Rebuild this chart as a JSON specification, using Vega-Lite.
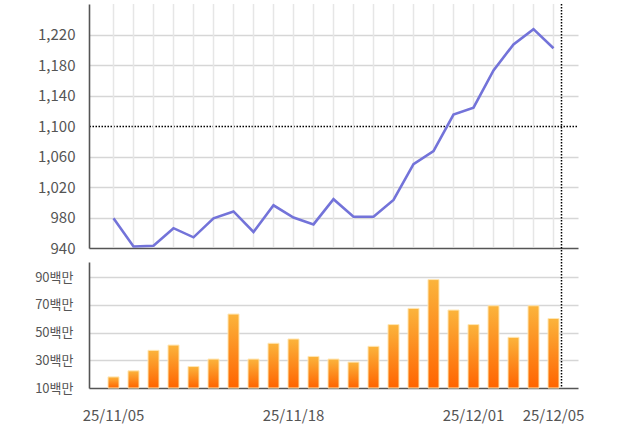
{
  "$schema": "https://vega.github.io/schema/vega-lite/v6.json",
  "width": 489,
  "height": 384,
  "autosize": "none",
  "padding": {"left": 89, "top": 4, "right": 44, "bottom": 45},
  "background": "white",
  "config": {
    "view": {"stroke": null},
    "font": "Noto Sans CJK KR",
    "axis": {"labelFont": "Noto Sans CJK KR", "labelColor": "#555555", "labelFontSize": 14, "ticks": false, "tickSize": 0, "title": null, "domainColor": "#555555", "domainWidth": 1.6}
  },
  "datasets": {
    "d": [
      {"date": "25/11/05", "price": 979, "vol": 18000000},
      {"date": "25/11/06", "price": 942, "vol": 22400000},
      {"date": "25/11/07", "price": 943, "vol": 37200000},
      {"date": "25/11/10", "price": 966, "vol": 41000000},
      {"date": "25/11/11", "price": 954, "vol": 25500000},
      {"date": "25/11/12", "price": 979, "vol": 30900000},
      {"date": "25/11/13", "price": 988, "vol": 63400000},
      {"date": "25/11/14", "price": 961, "vol": 30900000},
      {"date": "25/11/17", "price": 996, "vol": 42300000},
      {"date": "25/11/18", "price": 980, "vol": 45400000},
      {"date": "25/11/19", "price": 971, "vol": 32800000},
      {"date": "25/11/20", "price": 1004, "vol": 30900000},
      {"date": "25/11/21", "price": 981, "vol": 28700000},
      {"date": "25/11/24", "price": 981, "vol": 40100000},
      {"date": "25/11/25", "price": 1003, "vol": 55800000},
      {"date": "25/11/26", "price": 1050, "vol": 67500000},
      {"date": "25/11/27", "price": 1067, "vol": 88300000},
      {"date": "25/11/28", "price": 1115, "vol": 66300000},
      {"date": "25/12/01", "price": 1124, "vol": 55800000},
      {"date": "25/12/02", "price": 1173, "vol": 69400000},
      {"date": "25/12/03", "price": 1207, "vol": 46600000},
      {"date": "25/12/04", "price": 1227, "vol": 69400000},
      {"date": "25/12/05", "price": 1202, "vol": 60200000}
    ]
  },
  "data": {"name": "d"},
  "layer": [
    {
      "encoding": {
        "y": {
          "field": "price",
          "type": "quantitative",
          "scale": {"domain": [940, 1260], "range": [244, 0], "nice": false, "zero": false},
          "axis": {
            "orient": "left",
            "values": [940, 980, 1020, 1060, 1100, 1140, 1180, 1220],
            "format": ",d",
            "grid": true,
            "gridColor": {"condition": [{"test": "datum.value === 940", "value": "#555555"}, {"test": "datum.value === 1100", "value": "#000000"}], "value": "#d6d6d6"},
            "gridDash": {"condition": {"test": "datum.value === 1100", "value": [1.5, 1.5]}, "value": []},
            "gridWidth": {"condition": {"test": "datum.value === 1100", "value": 1.5}, "value": 1.6},
            "labelPadding": 14,
            "labelFontSize": 15
          }
        }
      },
      "layer": [
        {
          "mark": {"type": "rule", "color": "#e6e6e6", "strokeWidth": 1.5},
          "encoding": {
            "x": {
              "field": "date", "type": "ordinal", "sort": null,
              "scale": {"type": "band", "paddingInner": 0.55, "paddingOuter": 1},
              "axis": {"values": ["25/11/05", "25/11/18", "25/12/01", "25/12/05"], "labelAngle": 0, "labelPadding": 20, "grid": false, "domain": false, "labelFontSize": 15}
            },
            "y": {"datum": 941},
            "y2": {"datum": 1260}
          }
        },
        {
          "mark": {"type": "line", "color": "#7373d9", "strokeWidth": 2.6},
          "encoding": {
            "x": {
              "field": "date", "type": "ordinal", "sort": null,
              "scale": {"type": "band", "paddingInner": 0.55, "paddingOuter": 1},
              "axis": {"values": ["25/11/05", "25/11/18", "25/12/01", "25/12/05"], "labelAngle": 0, "labelPadding": 20, "grid": false, "domain": false, "labelFontSize": 15}
            }
          }
        }
      ]
    },
    {
      "mark": {
        "type": "bar",
        "width": 11,
        "stroke": "#ffe6b3",
        "strokeWidth": 1,
        "color": {
          "gradient": "linear",
          "x1": 0, "y1": 0, "x2": 0, "y2": 1,
          "stops": [
            {"offset": 0, "color": "#fbb43c"},
            {"offset": 1, "color": "#ff6400"}
          ]
        }
      },
      "encoding": {
        "x": {
          "field": "date", "type": "ordinal", "sort": null,
          "scale": {"type": "band", "paddingInner": 0.55, "paddingOuter": 1},
          "axis": {"values": ["25/11/05", "25/11/18", "25/12/01", "25/12/05"], "labelAngle": 0, "labelPadding": 20, "grid": false, "domain": false, "labelFontSize": 15}
        },
        "y": {
          "field": "vol",
          "type": "quantitative",
          "scale": {"domain": [10000000, 101000000], "range": [384, 258], "nice": false, "zero": false},
          "axis": {
            "orient": "left",
            "values": [10000000, 30000000, 50000000, 70000000, 90000000],
            "labelExpr": "format(datum.value / 1000000, 'd') + '백만'",
            "grid": true,
            "gridColor": {"condition": {"test": "datum.value === 10000000", "value": "#555555"}, "value": "#d6d6d6"},
            "gridWidth": 1.6,
            "labelPadding": 16,
            "labelFontSize": 13
          }
        },
        "y2": {"datum": 10000000}
      }
    },
    {
      "data": {"values": [{}]},
      "mark": {"type": "rule", "color": "#000000", "strokeWidth": 1.5, "strokeDash": [1.5, 1.5], "xOffset": 8},
      "encoding": {"x": {"datum": "25/12/05", "type": "ordinal"}}
    }
  ],
  "resolve": {"scale": {"y": "independent"}, "axis": {"y": "independent"}}
}
